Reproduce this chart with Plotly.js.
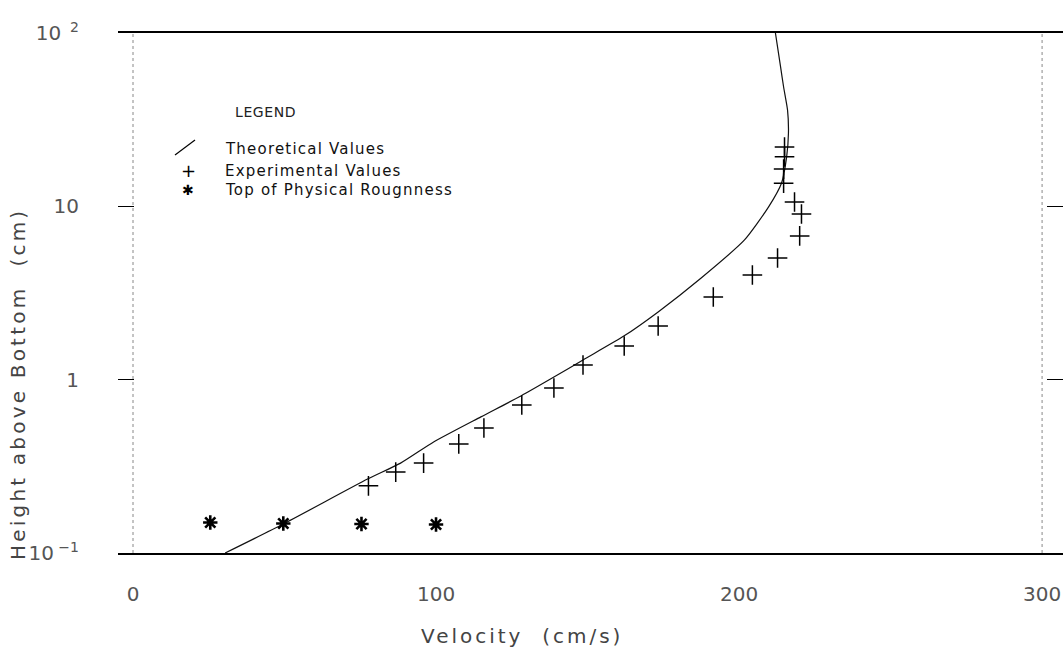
<!DOCTYPE html>
<html>
<head>
<meta charset="utf-8">
<script src="https://cdn.plot.ly/plotly-3.0.1.min.js"></script>
<style>
  html, body { margin: 0; padding: 0; background: #ffffff; }
  #chart { width: 1063px; height: 655px; }
</style>
</head>
<body>
<div id="chart"></div>
<script>
// Velocity profile above the bed: theory vs. measurements
const theoryVelocity = [30.4, 49.6, 77.4, 88.3, 99.2, 114.8, 128.0, 138.9, 148.5, 162.1, 173.3, 187.5, 201.8, 209.7, 214.0, 215.7, 216.3, 216.0, 214.7, 213.7, 212.0];
const theoryHeight   = [0.1, 0.147, 0.267, 0.330, 0.437, 0.610, 0.805, 1.035, 1.30, 1.79, 2.46, 3.86, 6.40, 9.9, 13.6, 19.3, 26.5, 35.9, 48.8, 63.7, 100];

const measuredVelocity = [77.7, 86.7, 95.9, 107.5, 115.8, 128.3, 138.9, 148.5, 162.1, 173.3, 191.5, 204.4, 212.7, 220.0, 220.6, 218.3, 214.7, 214.7, 215.0, 215.0];
const measuredHeight   = [0.244, 0.293, 0.330, 0.426, 0.526, 0.714, 0.896, 1.216, 1.564, 2.04, 3.00, 4.02, 5.03, 6.75, 9.04, 10.6, 13.6, 16.4, 19.3, 22.0];

const roughnessVelocity = [25.5, 49.6, 75.4, 100.0];
const roughnessHeight   = [0.150, 0.148, 0.147, 0.146];

const xTickValues = [0, 100, 200, 300];
const xTickLabels = ['0', '100', '200', '300'];
const yTickValues = [0.1, 1, 10, 100];
const yTickLabels = ['10<sup> −1</sup>', '1', '10', '10<sup>  2</sup>'];

const legendTitle = 'LEGEND';
const legendLabels = ['Theoretical Values', 'Experimental Values', 'Top of Physical Rougnness'];
const xTitle = 'Velocity  (cm/s)';
const yTitle = 'Height above Bottom  (cm)';

// plot-area geometry in pixels, used to place the hand-drawn legend and titles
const W = 1063, H = 655, L = 118, R = 0, T = 33, B = 102;
const plotW = W - L - R, plotH = H - T - B;
const px = x => (x - L) / plotW;
const py = y => (H - B - y) / plotH;

const baseFont = 'DejaVu Sans, Liberation Sans, sans-serif';

const traces = [
  {
    x: theoryVelocity, y: theoryHeight, type: 'scatter', mode: 'lines',
    line: { color: '#111', width: 1.2, shape: 'spline', smoothing: 0.6 }, hoverinfo: 'skip'
  },
  {
    x: measuredVelocity, y: measuredHeight, type: 'scatter', mode: 'markers',
    marker: { symbol: 'cross-thin', size: 14, color: '#000', line: { color: '#000', width: 1.5 } }
  },
  {
    x: roughnessVelocity, y: roughnessHeight, type: 'scatter', mode: 'markers',
    marker: { symbol: 'asterisk', size: 12, color: '#000', line: { color: '#000', width: 2.6 } }
  }
];

const legendRows = [149, 171, 190];

// each entry: annotation options plus the letter spacing (px) applied after drawing
const labelSpecs = [
  { a: { text: legendTitle, x: px(233), y: py(112), xanchor: 'left', align: 'left',
         font: { family: baseFont, size: 14, color: '#222' } }, spacing: 0.6 },
  { a: { text: xTitle, x: px(522), y: py(636), xanchor: 'center',
         font: { family: baseFont, size: 20, color: '#444' } }, spacing: 3 },
  { a: { text: yTitle, x: px(18), y: py(384), xanchor: 'center', textangle: -90,
         font: { family: baseFont, size: 20, color: '#444' } }, spacing: 3.2 },
  { a: { text: '+', x: px(188), y: py(legendRows[1]), xanchor: 'center',
         font: { family: baseFont, size: 18, color: '#000' } }, spacing: 0 },
  { a: { text: '✱', x: px(188), y: py(legendRows[2]), xanchor: 'center',
         font: { family: baseFont, size: 14, color: '#000' } }, spacing: 0 }
].concat(legendLabels.map((t, i) => ({
  a: { text: t, x: px(223), y: py(legendRows[i]), xanchor: 'left', align: 'left',
       font: { family: baseFont, size: 15, color: '#111' } }, spacing: 1.2
})));

const annotations = labelSpecs.map(s =>
  Object.assign({ xref: 'paper', yref: 'paper', showarrow: false, yanchor: 'middle' }, s.a));

const shapes = [
  // dotted frame lines at the ends of the velocity scale
  { type: 'line', xref: 'x', yref: 'paper', x0: 0, x1: 0, y0: 0, y1: 1,
    line: { color: '#888', width: 1, dash: 'dot' } },
  { type: 'line', xref: 'x', yref: 'paper', x0: 300, x1: 300, y0: 0, y1: 1,
    line: { color: '#888', width: 1, dash: 'dot' } },
  // legend stroke for the theoretical curve
  { type: 'line', xref: 'paper', yref: 'paper', x0: px(175), y0: py(155), x1: px(195), y1: py(140),
    line: { color: '#000', width: 1.2 } }
];

const layout = {
  width: W, height: H,
  margin: { l: L, r: R, t: T, b: B, pad: 0 },
  paper_bgcolor: '#fff', plot_bgcolor: '#fff',
  showlegend: false,
  font: { family: baseFont, color: '#444' },
  xaxis: {
    range: [-4.95, 306.9], tickvals: xTickValues, ticktext: xTickLabels,
    showgrid: false, zeroline: false, showline: true, mirror: true,
    linecolor: '#000', linewidth: 2, ticks: '',
    ticklabelstandoff: 22,
    tickfont: { family: baseFont, size: 20, color: '#555' }
  },
  yaxis: {
    type: 'log', range: [-1, 2], tickvals: yTickValues, ticktext: yTickLabels,
    showgrid: false, zeroline: false, showline: false,
    ticks: 'inside', ticklen: 16, tickwidth: 1.5, tickcolor: '#000', mirror: 'ticks',
    ticklabelstandoff: 38,
    tickfont: { family: baseFont, size: 20, color: '#555' }
  },
  shapes: shapes,
  annotations: annotations
};

const gd = document.getElementById('chart');
Plotly.newPlot(gd, traces, layout, { displayModeBar: false, staticPlot: true }).then(() => {
  // widen the lettering of the hand-lettered labels
  gd.querySelectorAll('g.annotation').forEach((g, i) => {
    const sp = labelSpecs[i] ? labelSpecs[i].spacing : 0;
    if (sp) g.querySelectorAll('text').forEach(t => { t.style.letterSpacing = sp + 'px'; });
  });
});
</script>
</body>
</html>
